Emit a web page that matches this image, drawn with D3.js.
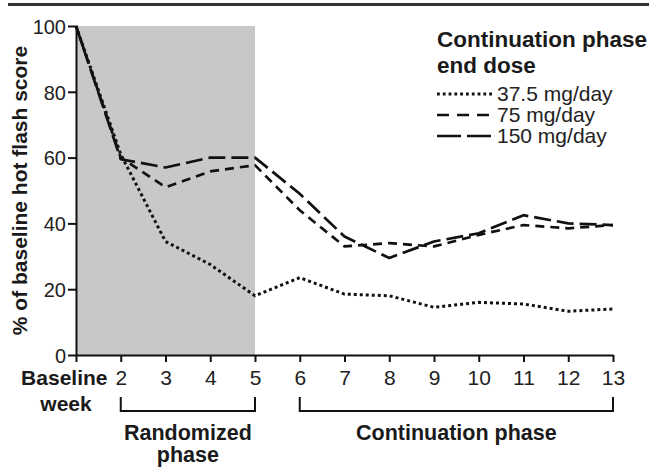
<!DOCTYPE html>
<html>
<head>
<meta charset="utf-8">
<script src="https://cdn.jsdelivr.net/npm/d3@7"></script>
<style>
  html, body { margin: 0; padding: 0; background: #fff; }
  svg { display: block; }
  text { font-family: "Liberation Sans", Arial, sans-serif; }
</style>
</head>
<body>
<svg id="chart" width="649" height="469"></svg>
<script>
// ---- data ----
const weeks = [1, 2, 3, 4, 5, 6, 7, 8, 9, 10, 11, 12, 13];
const weekLabels = ["Baseline", "2", "3", "4", "5", "6", "7", "8", "9", "10", "11", "12", "13"];
const dose37 = [100, 61, 34.5, 27.5, 18, 23.5, 18.5, 18, 14.5, 16, 15.5, 13.3, 14];
const dose75 = [100, 60, 51, 55.8, 57.7, 44, 33, 34, 33, 36.5, 39.5, 38.5, 39.5];
const dose150 = [100, 59.5, 57, 60, 60, 49, 36, 29.5, 34.5, 37, 42.5, 40, 39.5];
const yTicks = [0, 20, 40, 60, 80, 100];
const seriesNames = ["37.5 mg/day", "75 mg/day", "150 mg/day"];
const randomizedWeeks = [1, 5];

const svg = d3.select("#chart");
const x = d3.scaleLinear().domain([1, 13]).range([76, 613]);
const y = d3.scaleLinear().domain([0, 100]).range([355, 26]);

// top rule
svg.append("line").attr("x1", 8).attr("x2", 649).attr("y1", 4.5).attr("y2", 4.5)
  .attr("stroke", "#333").attr("stroke-width", 3);

// shaded randomized phase
svg.append("rect")
  .attr("x", x(randomizedWeeks[0])).attr("y", y(100))
  .attr("width", x(randomizedWeeks[1]) - x(randomizedWeeks[0]))
  .attr("height", y(0) - y(100))
  .attr("fill", "#c8c8c8");

// axes
const yAxis = svg.append("g").attr("transform", `translate(${x(1)},0)`)
  .call(d3.axisLeft(y).tickValues(yTicks).tickSize(8).tickPadding(2).tickSizeOuter(0));
const xAxis = svg.append("g").attr("transform", `translate(0,${y(0)})`)
  .call(d3.axisBottom(x).tickValues(weeks).tickSize(7).tickPadding(8).tickSizeOuter(0)
    .tickFormat((d, i) => weekLabels[i]));

[yAxis, xAxis].forEach(g => {
  g.select(".domain").attr("stroke", "#111").attr("stroke-width", 2);
  g.selectAll(".tick line").attr("stroke", "#111").attr("stroke-width", 2);
  g.selectAll(".tick text").attr("fill", "#222").style("font-size", "21px")
    .style("font-family", "'Liberation Sans', Arial, sans-serif");
});
yAxis.selectAll(".tick text").style("font-size", "20px").attr("dy", "0.36em");
// baseline label
xAxis.selectAll(".tick").filter(d => d === 1).select("text")
  .attr("text-anchor", "end").attr("x", 31)
  .style("font-weight", "bold").attr("fill", "#1a1a1a").style("font-size", "21px");
xAxis.append("text").attr("x", x(1) - 10).attr("y", 56)
  .attr("text-anchor", "middle").attr("fill", "#1a1a1a")
  .style("font-weight", "bold").style("font-size", "21px").text("week");

// y title
svg.append("text")
  .attr("transform", `translate(27,${(y(0) + y(100)) / 2 + 0}) rotate(-90)`)
  .attr("text-anchor", "middle").attr("fill", "#1a1a1a")
  .style("font-weight", "bold").style("font-size", "21px")
  .text("% of baseline hot flash score");

// lines
const line = d3.line().x((d, i) => x(weeks[i])).y(d => y(d));
const styles = [
  { data: dose37, dash: "3,3", w: 3 },
  { data: dose75, dash: "9,6", w: 2.7 },
  { data: dose150, dash: "17,6", w: 2.7 }
];
styles.forEach(s => {
  svg.append("path").datum(s.data).attr("d", line)
    .attr("fill", "none").attr("stroke", "#111").attr("stroke-width", s.w)
    .attr("stroke-dasharray", s.dash).attr("stroke-linejoin", "round");
});

// legend
const lg = svg.append("g");
lg.append("text").attr("x", 437).attr("y", 47).attr("fill", "#1a1a1a")
  .style("font-weight", "bold").style("font-size", "22.5px").text("Continuation phase");
lg.append("text").attr("x", 437).attr("y", 73).attr("fill", "#1a1a1a")
  .style("font-weight", "bold").style("font-size", "22.5px").text("end dose");
const legDash = ["2.8,3", "12,8", "24,6"];
seriesNames.forEach((name, i) => {
  const yy = 94 + i * 21;
  lg.append("line").attr("x1", 437).attr("x2", 492).attr("y1", yy).attr("y2", yy)
    .attr("stroke", "#111").attr("stroke-width", i === 0 ? 2.8 : 2.7).attr("stroke-dasharray", legDash[i]);
  lg.append("text").attr("x", 497).attr("y", yy + 7).attr("fill", "#222")
    .style("font-size", "21px").text(name);
});

// phase brackets
function bracket(w0, w1, labels) {
  const x0 = x(w0), x1 = x(w1);
  svg.append("path")
    .attr("d", `M${x0},397 V411 H${x1} V397`)
    .attr("fill", "none").attr("stroke", "#111").attr("stroke-width", 2);
  labels.forEach((t, i) => {
    svg.append("text").attr("x", (x0 + x1) / 2).attr("y", 440 + i * 22)
      .attr("text-anchor", "middle").attr("fill", "#1a1a1a")
      .style("font-weight", "bold").style("font-size", "21.5px").text(t);
  });
}
bracket(2, 5, ["Randomized", "phase"]);
bracket(6, 13, ["Continuation phase"]);
</script>
</body>
</html>
